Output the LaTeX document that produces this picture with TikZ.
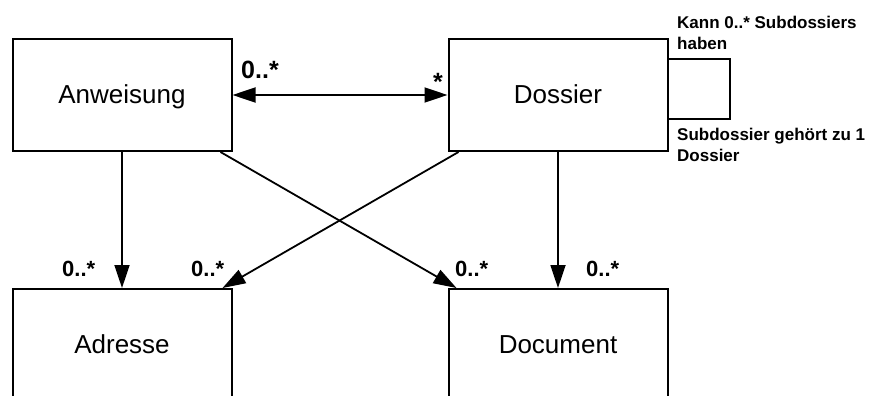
\documentclass[tikz,border=0pt]{standalone}
\usepackage{fontspec}
\setmainfont{Liberation Sans}
\usetikzlibrary{arrows.meta}
\tikzset{%
    entity/.style={draw, line width=2pt, minimum width=219pt,
        minimum height=112pt, text height=19pt, text depth=3pt,
        font=\fontsize{26}{31}\selectfont},
    link/.style={line width=1.8pt},
    mult/.style={inner sep=0pt, font=\bfseries\fontsize{22}{26}\selectfont},
    remark/.style={inner sep=0pt, align=left,
        font=\bfseries\fontsize{17}{21}\selectfont}
}

\begin{document}
\begin{tikzpicture}[x=1pt, y=-1pt, >={Triangle[length=23pt, width=15pt]}]

    \useasboundingbox (0, 0) rectangle (871, 396);
    \clip (0, 0) rectangle (871, 396);

    %%%%%%%%%%%%
    % Classes
    \node[entity] (anw) at (122, 95) {Anweisung};
    \node[entity] (dos) at (558, 95) {Dossier};
    \node[entity] (adr) at (122, 345) {Adresse};
    \node[entity] (doc) at (558, 345) {Document};

    %%%%%%%%%%%%
    % Associations
    \draw[link, <->] (anw) -- (dos);
    \draw[link, ->] (anw.south) -- (adr.north);
    \draw[link, ->] (dos.south) -- (doc.north);
    \draw[link, ->] ([xshift=-12pt] anw.south east)
        -- ([xshift=9pt] doc.north west);
    \draw[link, ->] ([xshift=11pt] dos.south west)
        -- ([xshift=-10pt] adr.north east);

    % Subdossiers
    \coordinate (loop-top) at (730, 59);
    \coordinate (loop-bot) at (730, 119);
    \draw[line width=2pt] (dos.east |- loop-top) -- (loop-top)
        -- (loop-bot) -- (dos.east |- loop-bot);

    \node[remark, anchor=north west] (note-top) at (677, 16)
        {Kann 0..* Subdossiers\\haben};
    \node[remark, anchor=north west] (note-bot) at (677, 127.5)
        {Subdossier gehört zu 1\\Dossier};

    %%%%%%%%%%%%
    % Multiplicities
    \node[mult, font=\bfseries\fontsize{25}{30}\selectfont,
        anchor=base west] (m-anw) at (241, 78) {0..*};
    \node[mult, font=\bfseries\fontsize{25}{30}\selectfont,
        anchor=base east] (m-dos) at (443, 91) {*};

    \foreach \i/\x in {1/62, 2/191, 3/455, 4/586}{%
        \node[mult, anchor=base west] (m-\i) at (\x, 276) {0..*};
    };

\end{tikzpicture}
\end{document}
